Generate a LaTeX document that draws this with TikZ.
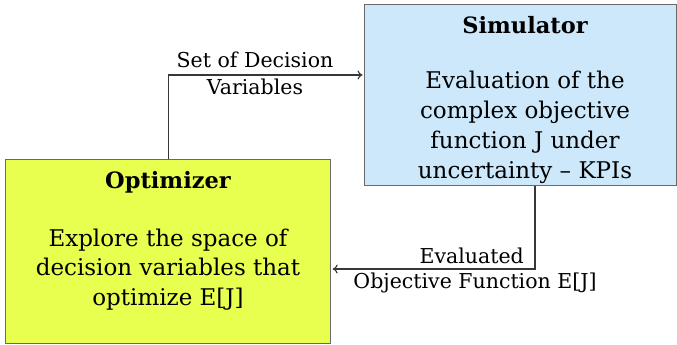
\documentclass[tikz,border=0pt]{standalone}
\usepackage{fontspec}
\setmainfont{DejaVu Serif}
\usetikzlibrary{arrows.meta}
\definecolor{optfill}{RGB}{232,255,80}
\definecolor{simfill}{RGB}{205,232,250}
\definecolor{boxline}{RGB}{105,105,105}
\definecolor{conncol}{RGB}{55,55,55}
\tikzset{
  box/.style={draw=boxline, line width=1.2pt, inner sep=0pt, anchor=north west},
  conn/.style={draw=conncol, line width=1.1pt, -{To[length=5pt,width=9pt]}},
  bodytxt/.style={align=center, font=\fontsize{23}{29.5}\selectfont},
  simtxt/.style={align=center, font=\fontsize{23}{30}\selectfont},
  titletxt/.style={font=\fontsize{22.5}{24}\selectfont\bfseries},
  lbl/.style={font=\fontsize{20.5}{27}\selectfont, inner sep=0pt}
}
\begin{document}
\begin{tikzpicture}[x=1pt,y=-1pt]
\useasboundingbox (0,0) rectangle (677,345);
\node[box, fill=optfill, minimum width=325pt, minimum height=184pt] (opt) at (5,159) {};
\node[box, fill=simfill, minimum width=312pt, minimum height=181pt] (sim) at (364,4) {};
\node[titletxt] (optT) at (168,182) {Optimizer};
\node[bodytxt] (optB) at (168,269.5) {Explore the space of\\decision variables that\\optimize E[J]};
\node[titletxt] (simT) at (525,25) {Simulator};
\node[simtxt] (simB) at (525,127.5) {Evaluation of the\\complex objective\\function J under\\uncertainty -- KPIs};
\coordinate (y1) at (0,75);
\coordinate (c2) at (535,269);
\draw[conn, shorten >=1.5pt] (opt.north) |- (sim.west |- y1);
\draw[conn, shorten >=1.5pt] (sim.south -| c2) |- (opt.east |- c2);
\node[lbl] (l1) at (255,60) {Set of Decision};
\node[lbl] (l2) at (255,87) {Variables};
\node[lbl, anchor=east] (l3) at (524,256) {Evaluated};
\node[lbl] (l4) at (475,283) {Objective Function E[J]};
\end{tikzpicture}
\end{document}
